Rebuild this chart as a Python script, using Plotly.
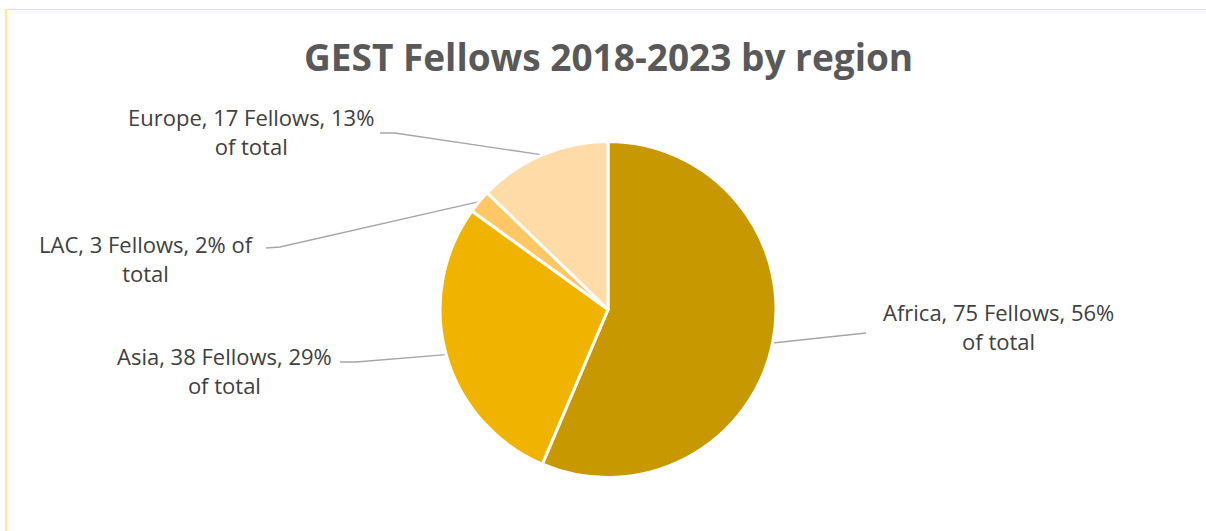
import math
import plotly.graph_objects as go

# ---- data ----
regions = ["Africa", "Asia", "LAC", "Europe"]
fellows = [75, 38, 3, 17]
colors = ["#C89800", "#EFB300", "#FFC864", "#FFDBA8"]
title_text = "GEST Fellows 2018-2023 by region"

W, H = 1206, 531
cx, cy, R = 608, 309.5, 168  # pie centre / radius in px

# label layout (px): block centre, line attach point, elbow point
label_pos = {
    "Africa": dict(x=998, y=326, attach=(866, 333), elbow=(866, 333)),
    "Asia": dict(x=224, y=370, attach=(340, 362), elbow=(356, 362)),
    "LAC": dict(x=146, y=258, attach=(266, 248), elbow=(280, 247)),
    "Europe": dict(x=251, y=131, attach=(380, 133), elbow=(395, 133)),
}
line_breaks = {
    "Africa": "Africa, 75 Fellows, 56%<br>of total",
    "Asia": "Asia, 38 Fellows, 29%<br>of total",
    "LAC": "LAC, 3 Fellows, 2% of<br>total",
    "Europe": "Europe, 17 Fellows, 13%<br>of total",
}

total = sum(fellows)
fig = go.Figure()

fig.add_trace(go.Pie(
    labels=regions, values=fellows, sort=False, direction="clockwise", rotation=0,
    marker=dict(colors=colors, line=dict(color="white", width=3)),
    textinfo="none", hoverinfo="label+value+percent", showlegend=False,
    domain=dict(x=[(cx - R) / W, (cx + R) / W], y=[1 - (cy + R) / H, 1 - (cy - R) / H]),
))

annotations = []
cum = 0
for name, v in zip(regions, fellows):
    mid = (cum + v / 2) / total * 2 * math.pi
    cum += v
    ex = cx + R * math.sin(mid)
    ey = cy - R * math.cos(mid)
    lp = label_pos[name]
    xs = [ex, lp["elbow"][0], lp["attach"][0]]
    ys = [ey, lp["elbow"][1], lp["attach"][1]]
    fig.add_trace(go.Scatter(x=xs, y=ys, mode="lines", line=dict(color="#A6A6A6", width=1.3),
                             hoverinfo="skip", showlegend=False))
    annotations.append(dict(
        x=lp["x"], y=lp["y"], xref="x", yref="y", text=line_breaks[name], showarrow=False,
        xanchor="center", yanchor="middle", align="center",
        font=dict(family="Open Sans", size=22, color="#404040"),
    ))

annotations.append(dict(
    x=608, y=56, xref="x", yref="y", text="<b>" + title_text + "</b>", showarrow=False,
    xanchor="center", yanchor="middle",
    font=dict(family="Open Sans", size=37, color="#595959"),
))

fig.update_layout(
    width=W, height=H, margin=dict(l=0, r=0, t=0, b=0),
    paper_bgcolor="white", plot_bgcolor="rgba(0,0,0,0)",
    xaxis=dict(range=[0, W], visible=False, fixedrange=True),
    yaxis=dict(range=[H, 0], visible=False, fixedrange=True),
    annotations=annotations,
    shapes=[
        dict(type="line", xref="x", yref="y", x0=6, x1=6, y0=9, y1=H + 5,
             line=dict(color="#FFE699", width=2)),
        dict(type="line", xref="x", yref="y", x0=5, x1=W + 5, y0=9.5, y1=9.5,
             line=dict(color="#FFE699", width=1)),
    ],
)

fig.write_html("out.html")
